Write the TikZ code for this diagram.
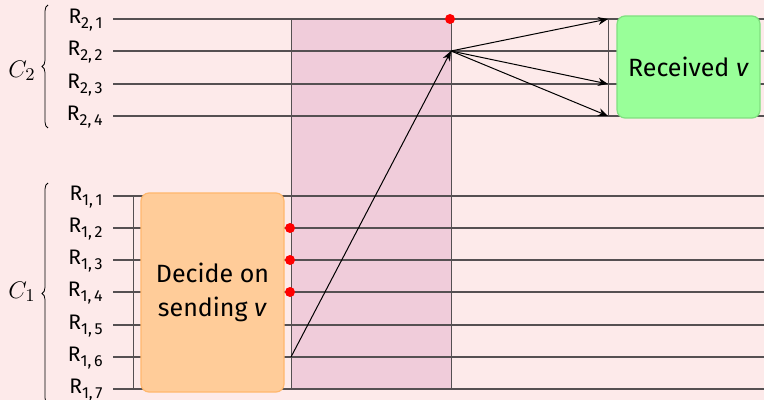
\documentclass[tikz,border=0pt]{standalone}
\usepackage{fontspec}
\setmainfont{Fira Sans}
\usetikzlibrary{arrows.meta,decorations.pathreplacing}
\definecolor{bg}{RGB}{253,234,234}
\definecolor{band}{RGB}{240,204,218}
\definecolor{wirec}{RGB}{85,80,82}
\definecolor{orfill}{RGB}{255,204,153}
\definecolor{ordraw}{RGB}{255,184,110}
\definecolor{grfill}{RGB}{153,255,153}
\definecolor{grdraw}{RGB}{128,224,128}
\newcommand{\rlab}[1]{R\raisebox{-0.45ex}{\fontsize{8}{9}\selectfont #1}}
\tikzset{
  wire/.style={line width=1.1pt, draw=wirec},
  vline/.style={line width=0.5pt, draw=wirec},
  lbl/.style={anchor=east, inner sep=0pt, font=\fontsize{10.5}{12}\selectfont},
  clbl/.style={inner sep=0pt, font=\fontsize{12.5}{14}\selectfont},
  box/.style={rounded corners=4pt, line width=0.6pt, align=center, inner sep=0pt,
    font=\fontsize{12.5}{17}\selectfont},
  rdot/.style={circle, fill=red, minimum size=5pt, inner sep=0pt},
  arr/.style={line width=0.5pt, -{Stealth[length=5pt,width=4pt]}},
  brc/.style={decorate, decoration={brace, amplitude=3pt}, line width=0.4pt},
}
\begin{document}
\begin{tikzpicture}[x=0.5pt,y=-0.5pt]
\fill[bg] (0,0) rectangle (764,400);
\useasboundingbox (0,0) rectangle (764,400);
% shaded window
\fill[band] (291,19) rectangle (451,389);
% wires of C2
\foreach \i/\y in {1/19,2/51,3/84,4/116}{
  \coordinate (S2\i) at (113,\y);
  \coordinate (E2\i) at (764,\y);
  \draw[wire] (S2\i) -- (E2\i);
  \node[lbl] (L2\i) at ([xshift=-5pt,yshift=-0.5pt]S2\i) {\rlab{2,\,\i}};
}
% wires of C1
\foreach \i/\y in {1/196,2/228,3/260,4/292,5/325,6/357,7/389}{
  \coordinate (S1\i) at (113,\y);
  \coordinate (E1\i) at (764,\y);
  \draw[wire] (S1\i) -- (E1\i);
  \node[lbl] (L1\i) at ([xshift=-5pt,yshift=-0.5pt]S1\i) {\rlab{1,\,\i}};
}
% braces and cluster names
\coordinate (B2b) at (48,128); \coordinate (B2t) at (48,5);
\coordinate (B1b) at (48,404); \coordinate (B1t) at (48,183);
\draw[brc] (B2b) -- (B2t);
\draw[brc] (B1b) -- (B1t);
\node[clbl] (C2) at (22,71) {$C_2$};
\node[clbl] (C1) at (22,292) {$C_1$};
% vertical lines
\coordinate (V1t) at (133,196); \coordinate (V1b) at (133,389);
\coordinate (V2t) at (291,19);  \coordinate (V2b) at (291,389);
\coordinate (V3t) at (451,19);  \coordinate (V3b) at (451,389);
\coordinate (V4t) at (608,19);  \coordinate (V4b) at (608,116);
\draw[vline] (V1t) -- (V1b);
\draw[vline] (V2t) -- (V2b);
\draw[vline] (V3t) -- (V3b);
\draw[vline] (V4t) -- (V4b);
% boxes
\node[box, fill=orfill, draw=ordraw, minimum width=71.5pt, minimum height=99.5pt]
  (decide) at (212.5,292.5) {Decide on\\sending \textit{v}};
\node[box, fill=grfill, draw=grdraw, minimum width=71.5pt, minimum height=51pt]
  (recv) at (688.5,67) {Received \textit{v}};
% red dots
\node[rdot] (d0) at (450,19) {};
\node[rdot] (d2) at (290,228) {};
\node[rdot] (d3) at (290,260) {};
\node[rdot] (d4) at (290,292) {};
% arrows
\coordinate (P16) at (291,357);
\coordinate (P22) at (451,51);
\coordinate (Q1) at (608,19);
\coordinate (Q3) at (608,84);
\coordinate (Q4) at (608,116);
\draw[arr] (P16) -- (P22);
\draw[arr] (P22) -- (Q1);
\draw[arr] (P22) -- (Q3);
\draw[arr] (P22) -- (Q4);
\end{tikzpicture}
\end{document}
